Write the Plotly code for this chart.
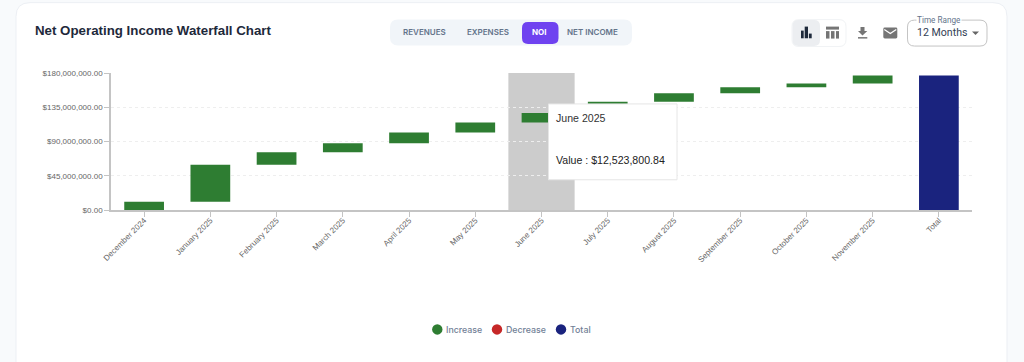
import plotly.graph_objects as go

months = ["December 2024", "January 2025", "February 2025", "March 2025", "April 2025", "May 2025",
          "June 2025", "July 2025", "August 2025", "September 2025", "October 2025", "November 2025", "Total"]
changes = [11.0e6, 48.3e6, 16.7e6, 11.7e6, 14.0e6, 13.1e6, 12523800.84, 15.0e6, 11.2e6, 7.9e6, 4.8e6, 10.5e6, 0]
measures = ["relative"] * 12 + ["total"]
y_ticks = [0, 45e6, 90e6, 135e6, 180e6]
y_labels = ["$0.00", "$45,000,000.00", "$90,000,000.00", "$135,000,000.00", "$180,000,000.00"]
legend_names = ["Increase", "Decrease", "Total"]
legend_colors = ["#2e7d32", "#c62828", "#1a237e"]
highlighted = "June 2025"
tooltip_value = "Value : $12,523,800.84"

W, H = 1024, 362
L, R, T, B = 111, 972, 72.5, 209.8
SANS = "Liberation Sans, Arial, sans-serif"
UI = "Inter, sans-serif"
ROBOTO = "Roboto, sans-serif"

def px(x): return (x - L) / (R - L)
def py(y): return (B - y) / (B - T)

def poly(points):
    return "M" + " L".join(f"{px(x):.5f},{py(y):.5f}" for x, y in points) + " Z"

def rr(x0, y0, x1, y1, r):
    return (
        f"M{px(x0+r):.5f},{py(y0):.5f} L{px(x1-r):.5f},{py(y0):.5f} "
        f"Q{px(x1):.5f},{py(y0):.5f} {px(x1):.5f},{py(y0+r):.5f} "
        f"L{px(x1):.5f},{py(y1-r):.5f} Q{px(x1):.5f},{py(y1):.5f} {px(x1-r):.5f},{py(y1):.5f} "
        f"L{px(x0+r):.5f},{py(y1):.5f} Q{px(x0):.5f},{py(y1):.5f} {px(x0):.5f},{py(y1-r):.5f} "
        f"L{px(x0):.5f},{py(y0+r):.5f} Q{px(x0):.5f},{py(y0):.5f} {px(x0+r):.5f},{py(y0):.5f} Z"
    )

def sh(path, fill="rgba(0,0,0,0)", line=None, width=1, layer="below"):
    return dict(type="path", xref="paper", yref="paper", path=path, fillcolor=fill,
                line=dict(color=line or "rgba(0,0,0,0)", width=width if line else 0), layer=layer)

def box(x0, y0, x1, y1):
    return poly([(x0, y0), (x1, y0), (x1, y1), (x0, y1)])

def txt(x, y, s, size, color, family=UI, anchor="left", weight=400, bg=None):
    return dict(xref="paper", yref="paper", x=px(x), y=py(y), text=s, showarrow=False,
                xanchor=anchor, yanchor="middle", font=dict(size=size, color=color, family=family, weight=weight),
                bgcolor=bg, borderpad=0)

shapes = [
    sh(rr(16, 2, 1007, 420, 14), "#ffffff", "#eceff4", 1),
    sh(rr(390, 19, 632, 45, 8), "#f1f5f9"),
    sh(rr(522, 21.5, 558.5, 43.5, 6), "#6f42f0"),
    sh(rr(792, 19, 846, 46, 7), "#ffffff", "#f1f3f5", 1),
    sh(rr(792.5, 19.5, 820, 45.5, 6), "#eceef1"),
    sh(rr(907.5, 19.5, 987, 45.5, 7), "#ffffff", "#c4c4c4", 1),
    # bar-chart icon
    sh(box(801, 30, 803.7, 37.7), "#1e293b"),
    sh(box(804.7, 26, 808, 37.7), "#1e293b"),
    sh(box(808.9, 33, 811.7, 37.7), "#1e293b"),
    # table icon
    sh(box(826, 26, 839, 29), "#757575"),
    sh(box(826, 30.5, 829.5, 38), "#757575"),
    sh(box(831, 30.5, 834.5, 38), "#757575"),
    sh(box(836, 30.5, 839, 38), "#757575"),
    # download icon
    sh(poly([(860.5, 26.5), (864.5, 26.5), (864.5, 30.5), (867.3, 30.5), (862.5, 35), (858, 30.5), (860.5, 30.5)]), "#757575"),
    sh(box(858, 36.5, 867.3, 38), "#757575"),
    # mail icon
    sh(rr(883.3, 27, 897.3, 38, 1.5), "#757575"),
    sh("M" + " L".join(f"{px(x):.5f},{py(y):.5f}" for x, y in [(884.3, 29), (890.3, 33), (896.3, 29)]), line="#ffffff", width=1.2),
    # select caret
    sh(poly([(972, 31), (979, 31), (975.5, 34.5)]), "#666666"),
    # highlight band
    dict(type="rect", xref="x", yref="y", x0=5.5, x1=6.5, y0=0, y1=180e6, fillcolor="#cccccc", line=dict(width=0), layer="below"),
    # tooltip
    sh(box(548.5, 103.5, 677, 179.5), "#ffffff", "#e6e6e6", 1, layer="above"),
]

annotations = [
    txt(33.5, 30, "Net Operating Income Waterfall Chart", 13.3, "#1e293b", SANS, weight=700),
    txt(424.5, 31, "REVENUES", 8, "#64748b", UI, "center", 600),
    txt(488, 31, "EXPENSES", 8, "#64748b", UI, "center", 600),
    txt(539, 31, "NOI", 8, "#ffffff", UI, "center", 700),
    txt(592.5, 31, "NET INCOME", 8, "#64748b", UI, "center", 600),
    txt(916, 31.5, "12 Months", 10.6, "#334155", ROBOTO),
    txt(916, 19.5, "Time Range", 8.2, "#64748b", ROBOTO, bg="#ffffff"),
    txt(555, 118, highlighted, 10.6, "#333333", SANS),
    txt(555, 160, tooltip_value, 10.6, "#222222", SANS),
]

# Legend row, one marker and one label per entry
legend_dot_x = [437.3, 497, 561]
legend_text_x = [445, 505.3, 569]
for name, color, dx, tx in zip(legend_names, legend_colors, legend_dot_x, legend_text_x):
    shapes.append(dict(type="circle", xref="paper", yref="paper", x0=px(dx - 5.2), x1=px(dx + 5.2),
                       y0=py(329.5 + 5.2), y1=py(329.5 - 5.2), fillcolor=color, line=dict(width=0), layer="below"))
    annotations.append(txt(tx, 329.5, name, 8.8, "#718096", UI, weight=500))

fig = go.Figure()
fig.add_trace(go.Waterfall(
    x=months, y=changes, measure=measures, width=0.6, showlegend=False, hoverinfo="skip",
    increasing=dict(marker=dict(color=legend_colors[0], line=dict(width=0))),
    decreasing=dict(marker=dict(color=legend_colors[1], line=dict(width=0))),
    totals=dict(marker=dict(color=legend_colors[2], line=dict(width=0))),
    connector=dict(visible=False),
))

fig.update_layout(
    width=W, height=H, autosize=False,
    margin=dict(l=L, r=W - R, t=T, b=H - B, pad=0),
    paper_bgcolor="#f8fafc", plot_bgcolor="rgba(0,0,0,0)",
    font=dict(family=SANS, size=8, color="#666666"),
    shapes=shapes, annotations=annotations, showlegend=False,
    xaxis=dict(type="category", categoryorder="array", categoryarray=months, range=[-0.5, 12.5],
               tickangle=-45, ticks="outside", ticklen=5, tickcolor="#c4c4c4", tickwidth=1,
               showline=True, linecolor="#c4c4c4", linewidth=1.5, showgrid=False, zeroline=False,
               ticklabelstandoff=-4,
               tickfont=dict(family=SANS, size=8, color="#666666"), fixedrange=True),
    yaxis=dict(range=[0, 180e6], tickvals=y_ticks, ticktext=y_labels, ticks="outside", ticklen=5,
               tickcolor="#c4c4c4", tickwidth=1, showline=True, linecolor="#c4c4c4", linewidth=1.5,
               showgrid=True, gridcolor="#eeeeee", griddash="dot", gridwidth=1, zeroline=False,
               tickfont=dict(family=SANS, size=8, color="#666666"), fixedrange=True),
)

fig.write_html("out.html", config=dict(displayModeBar=False),
               post_script="document.body.style.margin='0';document.body.style.overflow='hidden';")
